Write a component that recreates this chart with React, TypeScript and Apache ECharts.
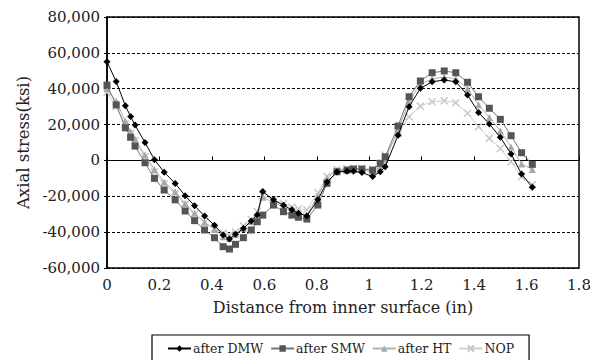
import React, { useEffect, useRef } from "react";
import * as echarts from "echarts";

const distances = [0, 0.035, 0.07, 0.09, 0.107, 0.145, 0.181, 0.218, 0.26, 0.298, 0.334, 0.372, 0.41, 0.443, 0.467, 0.49, 0.52, 0.55, 0.573, 0.594, 0.635, 0.673, 0.705, 0.73, 0.762, 0.804, 0.839, 0.877, 0.915, 0.94, 0.972, 1.013, 1.042, 1.061, 1.11, 1.152, 1.195, 1.24, 1.286, 1.33, 1.375, 1.417, 1.458, 1.5, 1.541, 1.581, 1.622];

const afterDMW = [55000, 44000, 30500, 24500, 19700, 10000, 400, -6600, -12800, -19700, -25300, -31000, -36200, -41600, -43800, -41200, -37900, -33800, -30500, -17400, -22000, -25000, -27500, -29400, -31000, -22000, -12000, -6500, -6000, -6000, -6800, -9000, -6300, -3500, 14000, 30000, 40200, 43900, 44800, 43900, 36500, 26800, 20300, 12900, 3600, -7600, -15000];

const afterSMW = [42000, 31000, 18200, 12900, 8000, -1300, -10000, -16500, -22000, -28200, -33600, -38800, -43100, -48100, -49400, -46800, -43100, -38800, -34200, -30500, -24900, -28600, -30500, -31700, -32700, -24900, -12800, -6300, -5400, -4800, -4800, -5400, -1600, 2000, 19200, 35500, 44300, 48900, 49900, 48900, 43600, 35500, 29100, 22900, 13800, 4300, -2200];

const afterHT = [40000, 33000, 22000, 16000, 12000, 3000, -5000, -12000, -17500, -24000, -29500, -34500, -38500, -42500, -43500, -41500, -38000, -34000, -29500, -20500, -23500, -26000, -28000, -29500, -30500, -20000, -10000, -5500, -5000, -4500, -5000, -6500, -3500, 500, 17000, 33000, 42500, 45500, 46500, 45500, 40000, 31000, 24000, 16500, 7500, -2000, -5000];

const nop = [38000, 30000, 20500, 15000, 11000, 2000, -6500, -13000, -18500, -24500, -30000, -34500, -38000, -40500, -41500, -40000, -36500, -33000, -28500, -19500, -22000, -24000, -26000, -27000, -27500, -18000, -9000, -5000, -4500, -4500, -4500, -5000, -2000, 3000, 15000, 24400, 30300, 32700, 33300, 32200, 26300, 18800, 12300, 6700, -700, -9100, -13500];

const seriesNames = ["after DMW", "after SMW", "after HT", "NOP"];

const FONT = "'DejaVu Serif', 'Liberation Serif', serif";

function pairs(ys: number[]) {
  return distances.map((x, i) => [x, ys[i]]);
}

export default function App() {
  const ref = useRef<HTMLDivElement>(null);
  useEffect(() => {
    if (!ref.current) return;
    const chart = echarts.init(ref.current, undefined, { renderer: "svg" });
    const crossPath = "path://M0,0L10,10M10,0L0,10";
    chart.setOption({
      animation: false,
      textStyle: { fontFamily: FONT },
      grid: {
        left: 107,
        right: 19,
        top: 17,
        bottom: 92,
        show: true,
        borderColor: "#000",
        borderWidth: 1.5,
        backgroundColor: "transparent",
      },
      legend: {
        data: seriesNames,
        left: 152,
        top: 335,
        orient: "horizontal",
        itemWidth: 23,
        itemHeight: 8,
        itemGap: 7,
        padding: [7, 15, 12, 15],
        borderColor: "#000",
        borderWidth: 1.2,
        textStyle: { fontFamily: FONT, fontSize: 12.5, color: "#222", padding: [0, 0, 0, -3] },
      },
      xAxis: [
        {
          type: "value",
          min: 0,
          max: 1.8,
          interval: 0.2,
          position: "bottom",
          name: "Distance from inner surface (in)",
          nameLocation: "middle",
          nameGap: 31,
          nameTextStyle: { fontFamily: FONT, fontSize: 16, color: "#222" },
          axisLine: { show: false, onZero: false },
          axisTick: { show: false },
          splitLine: { show: false },
          axisLabel: {
            fontFamily: FONT,
            fontSize: 15,
            color: "#222",
            margin: 9,
            formatter: (v: number) => String(Math.round(v * 10) / 10),
          },
        },
        {
          type: "value",
          min: 0,
          max: 1.8,
          interval: 0.2,
          position: "bottom",
          axisLine: { show: true, onZero: true, lineStyle: { color: "#000", width: 1 } },
          axisTick: { show: true, inside: true, length: 4, lineStyle: { color: "#000" } },
          axisLabel: { show: false },
          splitLine: { show: false },
        },
      ],
      yAxis: {
        type: "value",
        min: -60000,
        max: 80000,
        interval: 20000,
        name: "Axial stress(ksi)",
        nameLocation: "middle",
        nameGap: 75,
        nameTextStyle: { fontFamily: FONT, fontSize: 16.5, color: "#222" },
        axisLine: { show: true, lineStyle: { color: "#000", width: 1.5 } },
        axisTick: { show: true, length: 3, lineStyle: { color: "#000" } },
        axisLabel: {
          fontFamily: FONT,
          fontSize: 15,
          color: "#222",
          margin: 7,
          formatter: (v: number) => v.toLocaleString("en-US"),
        },
        splitLine: { show: true, lineStyle: { color: "#000", width: 1, type: [3, 2] } },
      },
      series: [
        {
          name: "after DMW",
          type: "line",
          xAxisIndex: 0,
          data: pairs(afterDMW),
          symbol: "diamond",
          symbolSize: 7,
          z: 5,
          itemStyle: { color: "#000" },
          lineStyle: { color: "#000", width: 1 },
        },
        {
          name: "after SMW",
          type: "line",
          xAxisIndex: 0,
          data: pairs(afterSMW),
          symbol: "rect",
          symbolSize: 7,
          z: 4,
          itemStyle: { color: "#555" },
          lineStyle: { color: "#777", width: 1 },
        },
        {
          name: "after HT",
          type: "line",
          xAxisIndex: 0,
          data: pairs(afterHT),
          symbol: "triangle",
          symbolSize: 7,
          z: 3,
          itemStyle: { color: "#a8a8a8" },
          lineStyle: { color: "#b0b0b0", width: 1 },
        },
        {
          name: "NOP",
          type: "line",
          xAxisIndex: 0,
          data: pairs(nop),
          symbol: crossPath,
          symbolSize: 7,
          z: 2,
          itemStyle: { color: "#c8c8c8", borderColor: "#c8c8c8", borderWidth: 1.5 },
          lineStyle: { color: "#d0d0d0", width: 1 },
        },
      ],
    });
    return () => chart.dispose();
  }, []);
  return <div ref={ref} style={{ width: 598, height: 360, position: "absolute", left: 0, top: 0 }} />;
}
